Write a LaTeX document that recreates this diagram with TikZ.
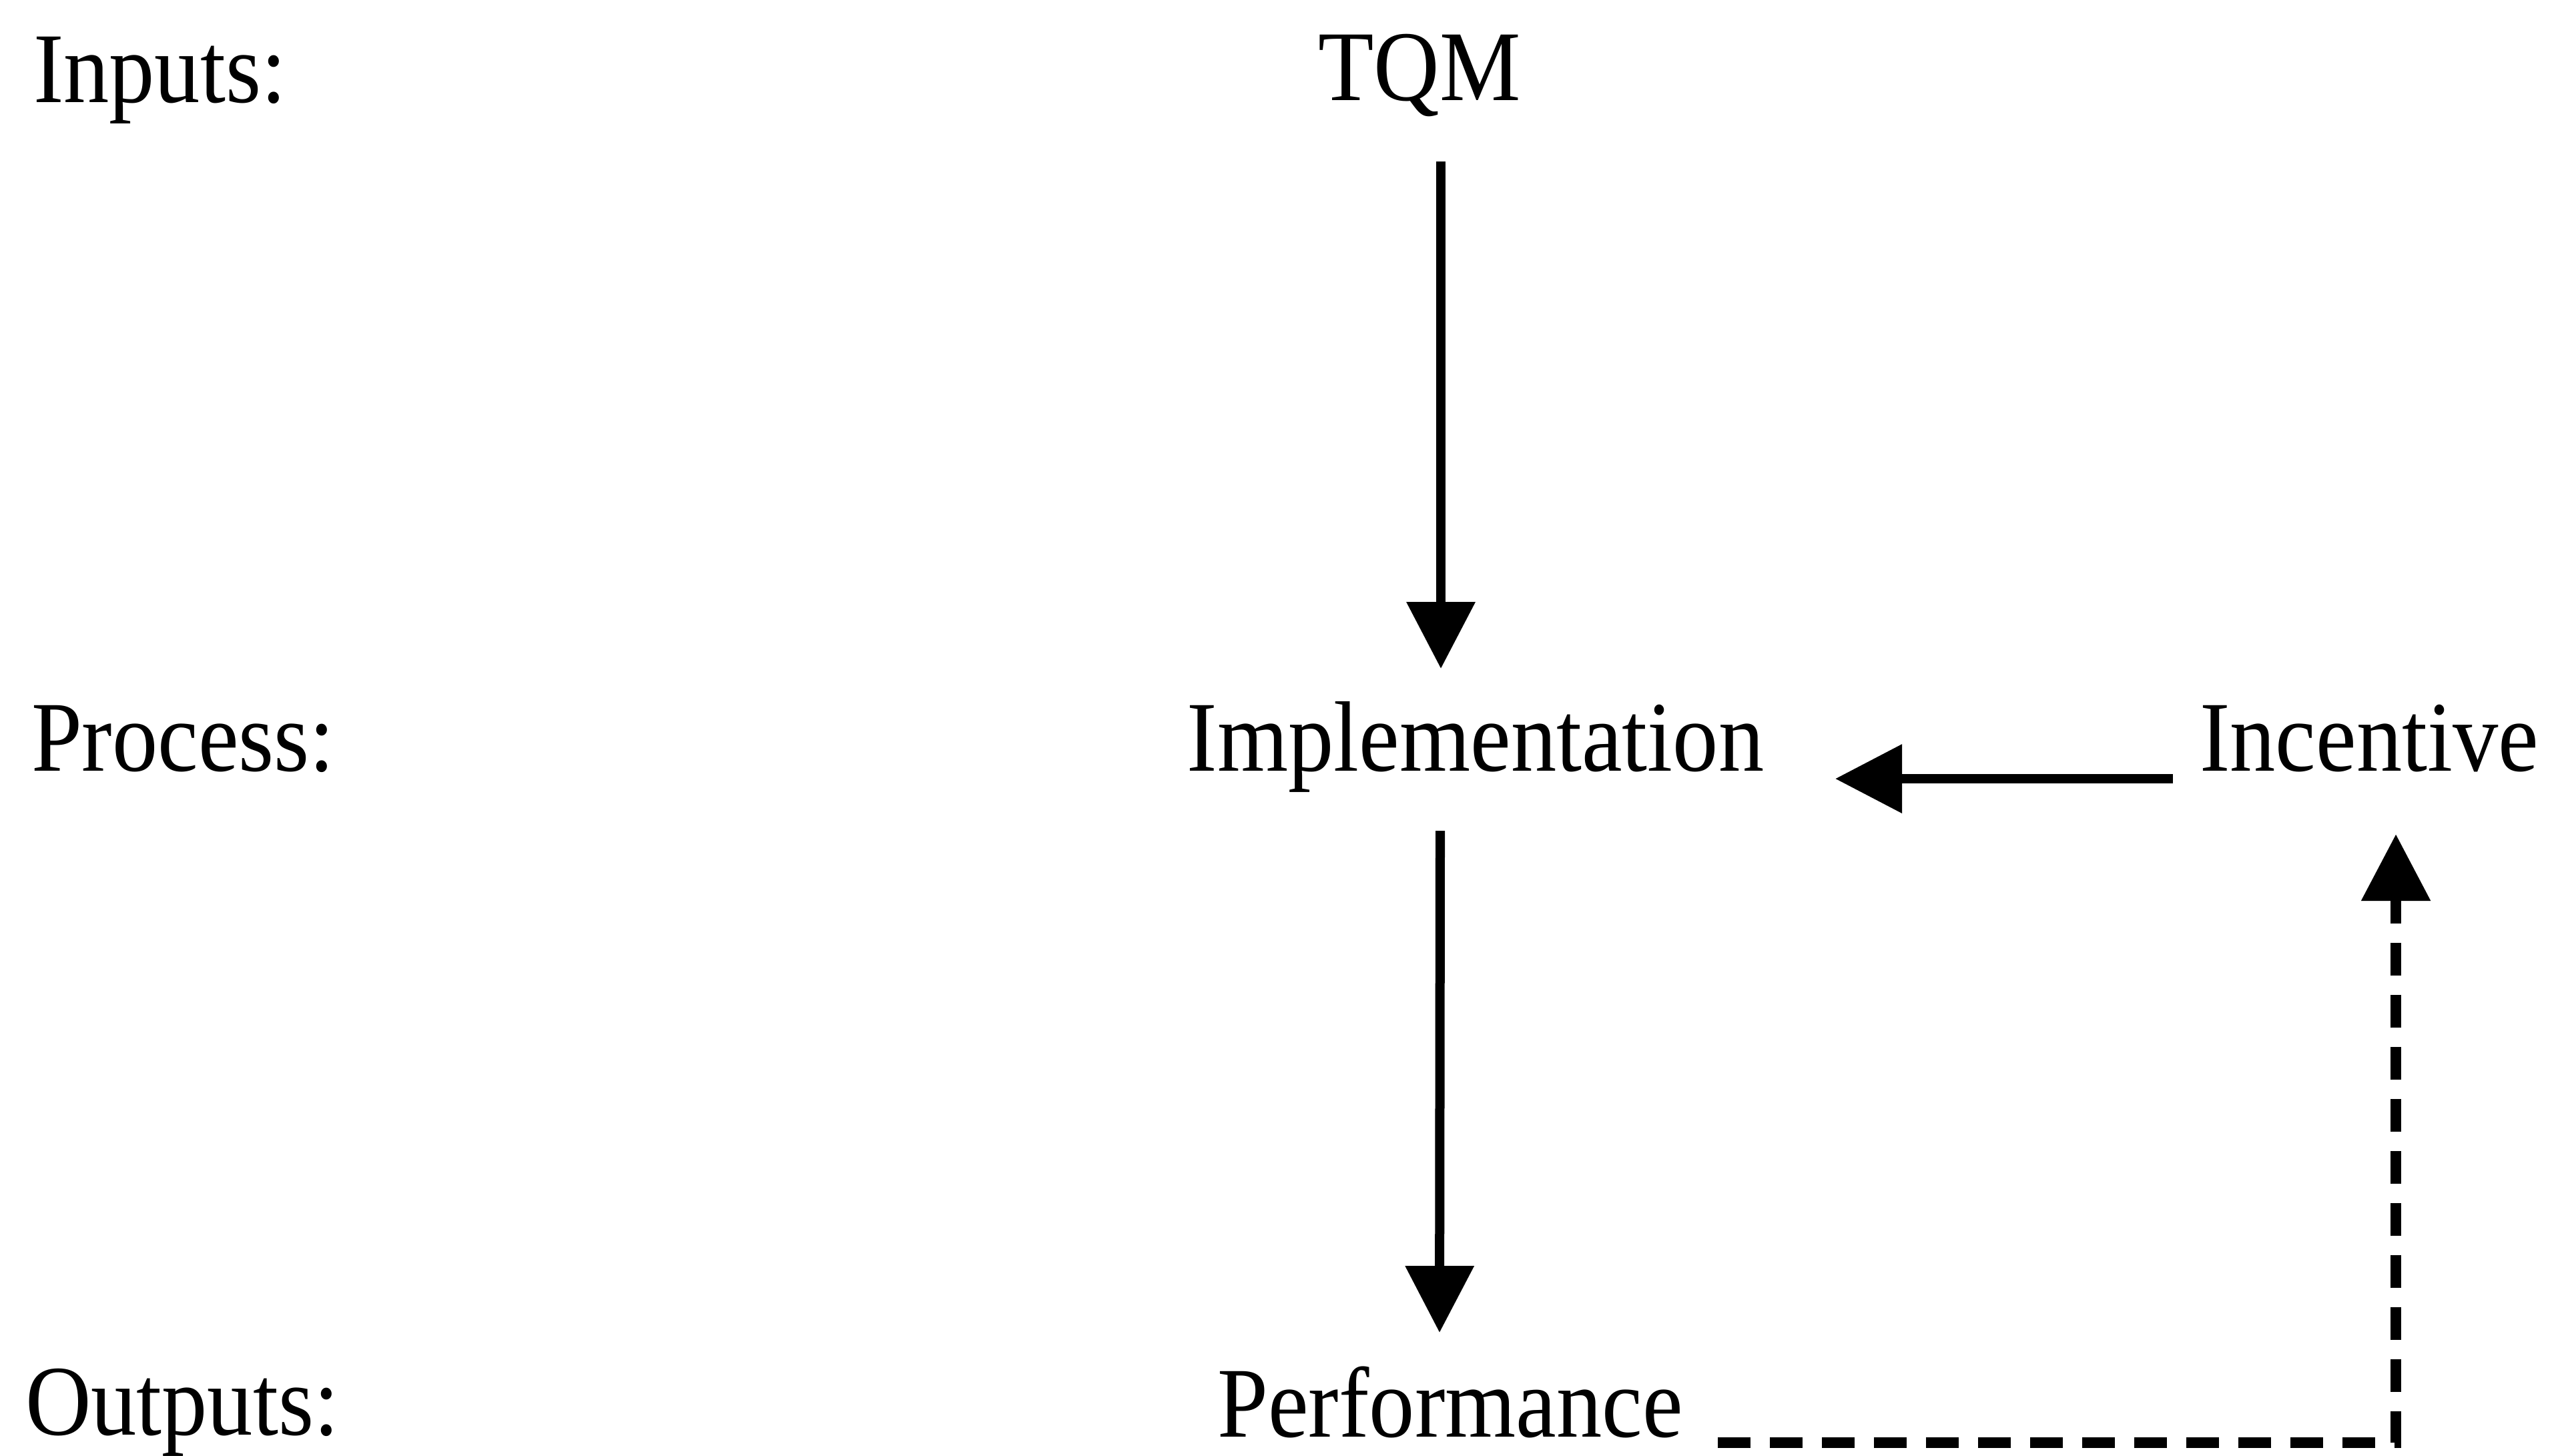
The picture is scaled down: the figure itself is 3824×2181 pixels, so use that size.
\documentclass[tikz,border=0pt]{standalone}
\usepackage{fontspec}
\setmainfont{Liberation Serif}[FakeStretch=0.91]
\usetikzlibrary{arrows.meta,calc}

\tikzset{
  label/.style={inner sep=0pt, outer sep=0pt, font=\fontsize{15}{18}\selectfont},
  flow/.style={line width=1.4pt, -{Triangle[length=10pt,width=10pt]}},
  feedback/.style={line width=1.6pt, dash pattern=on 4.9pt off 2.9pt,
                   -{Triangle[length=10pt,width=10pt]}}
}

\begin{document}
\begin{tikzpicture}[x=0.1pt,y=-0.1pt]
  \useasboundingbox (0,0) rectangle (3824,2181);

  % stage labels on the left
  \node[label, anchor=base west] (lin)  at (50,153)  {Inputs:};
  \node[label, anchor=base west] (lpro) at (47,1155) {Process:};
  \node[label, anchor=base west] (lout) at (38,2150) {Outputs:};

  % model elements
  \node[label, anchor=base] (tqm)  at (2127,150)  {TQM};
  \node[label, anchor=base] (impl) at (2211,1155) {Implementation};
  \node[label, anchor=base] (inc)  at (3550,1155) {Incentive};
  \node[label, anchor=base] (perf) at (2173,2153) {Performance};

  % main causal chain
  \draw[flow] ($(tqm.base)+(32,92)$) -- ($(impl.base)+(-52,-153)$);
  \draw[flow] ($(impl.base)+(-53,90)$) -- ($(perf.base)+(-16,-156)$);

  % incentive acting on implementation
  \draw[flow] ($(inc.base)+(-294,12)$) -- ($(impl.base)+(539,12)$);

  % feedback from performance to incentive
  \draw[feedback] ($(perf.base)+(401,9)$) -| ($(inc.base)+(40,95)$);
\end{tikzpicture}
\end{document}
